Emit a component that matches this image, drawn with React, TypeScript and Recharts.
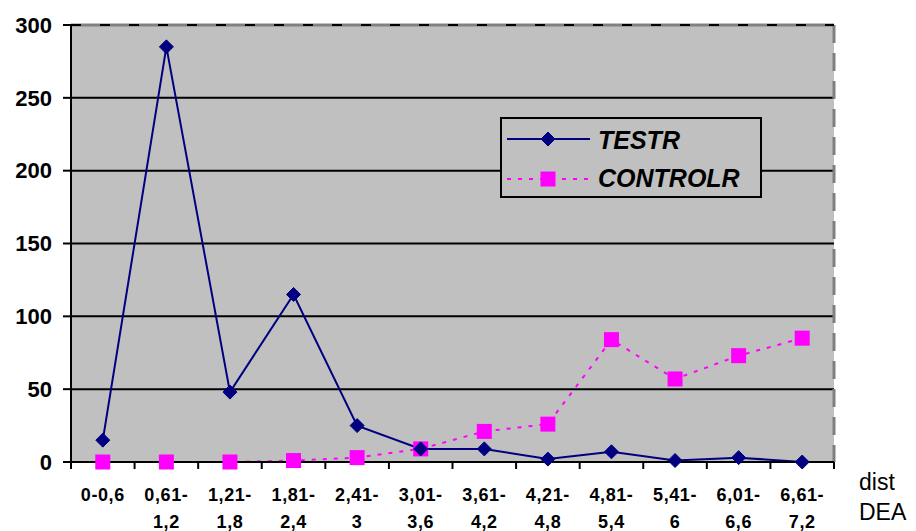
import {
  CartesianGrid,
  Legend,
  Line,
  LineChart,
  ReferenceLine,
  XAxis,
  YAxis,
} from 'recharts'

const categories = [
  '0-0,6',
  '0,61-1,2',
  '1,21-1,8',
  '1,81-2,4',
  '2,41-3',
  '3,01-3,6',
  '3,61-4,2',
  '4,21-4,8',
  '4,81-5,4',
  '5,41-6',
  '6,01-6,6',
  '6,61-7,2',
]

const tickTop = ['0-0,6', '0,61-', '1,21-', '1,81-', '2,41-', '3,01-', '3,61-', '4,21-', '4,81-', '5,41-', '6,01-', '6,61-']
const tickBottom = ['', '1,2', '1,8', '2,4', '3', '3,6', '4,2', '4,8', '5,4', '6', '6,6', '7,2']

const testr = [15, 285, 48, 115, 25, 9, 9, 2, 7, 1, 3, 0]
const controlr = [0, 0, 0, 1, 3, 9, 21, 26, 84, 57, 73, 85]

const yTicks = [0, 50, 100, 150, 200, 250, 300]

const data = categories.map((name, i) => ({
  name,
  TESTR: testr[i],
  CONTROLR: controlr[i],
}))

const font = "'Liberation Sans', Arial, sans-serif"
const navy = '#000080'
const magenta = '#ff00ff'
// half of one category band (plot width / 12 / 2)
const halfBand = (834 - 71) / categories.length / 2

function Diamond({ cx, cy, size = 7 }: { cx: number; cy: number; size?: number }) {
  return (
    <path
      d={`M${cx},${cy - size} L${cx + size},${cy} L${cx},${cy + size} L${cx - size},${cy} Z`}
      fill={navy}
      stroke={navy}
    />
  )
}

function Square({ cx, cy, size = 7.5 }: { cx: number; cy: number; size?: number }) {
  return <rect x={cx - size} y={cy - size} width={size * 2} height={size * 2} fill={magenta} />
}

function XTick(props: any) {
  const { x, payload, index } = props
  const i = index ?? payload?.index ?? 0
  const top = 462
  const labelProps = {
    x,
    textAnchor: 'middle' as const,
    fontFamily: font,
    fontWeight: 'bold',
    fontSize: 18,
    letterSpacing: 0.6,
    fill: '#000',
  }
  return (
    <g>
      <line x1={x - halfBand} y1={top} x2={x - halfBand} y2={top + 7} stroke="#000" strokeWidth={2} />
      {i === categories.length - 1 && (
        <line x1={x + halfBand} y1={top} x2={x + halfBand} y2={top + 7} stroke="#000" strokeWidth={2} />
      )}
      <text {...labelProps} y={top + 39}>
        {tickTop[i]}
      </text>
      <text {...labelProps} y={top + 65.5}>
        {tickBottom[i]}
      </text>
    </g>
  )
}

function LegendBox() {
  return (
    <div
      style={{
        width: 262,
        height: 81,
        boxSizing: 'border-box',
        border: '2px solid #000',
        background: '#c0c0c0',
      }}
    >
      <svg width={258} height={77} style={{ display: 'block' }}>
        <line x1={5} y1={20} x2={88} y2={20} stroke={navy} strokeWidth={2} />
        <Diamond cx={46} cy={20} />
        <text x={96} y={30} fontFamily={font} fontWeight="bold" fontStyle="italic" fontSize={25} fill="#000">
          TESTR
        </text>
        <line x1={5} y1={60} x2={88} y2={60} stroke={magenta} strokeWidth={2} strokeDasharray="4 7" />
        <Square cx={46} cy={60} />
        <text x={96} y={68} fontFamily={font} fontWeight="bold" fontStyle="italic" fontSize={25} fill="#000">
          CONTROLR
        </text>
      </svg>
    </div>
  )
}

export default function App() {
  return (
    <div style={{ position: 'absolute', left: 0, top: 0, width: 916, height: 531, background: '#fff' }}>
      <LineChart width={916} height={531} data={data} margin={{ top: 25, right: 82, bottom: 0, left: 0 }}>
        <CartesianGrid fill="#c0c0c0" vertical={false} stroke="#000" strokeWidth={2} strokeOpacity={1} />
        <CartesianGrid
          horizontal={false}
          verticalCoordinatesGenerator={({ offset }: any) => [offset.left + offset.width]}
          stroke="#808080"
          strokeWidth={3}
          strokeDasharray="18 10"
        />
        <XAxis
          dataKey="name"
          height={69}
          padding={{ left: halfBand, right: halfBand }}
          axisLine={{ stroke: '#000', strokeWidth: 2 }}
          tickLine={false}
          tickSize={0}
          tickMargin={0}
          interval={0}
          tick={<XTick />}
        />
        <YAxis
          width={71}
          domain={[0, 300]}
          ticks={yTicks}
          interval={0}
          axisLine={{ stroke: '#000', strokeWidth: 2 }}
          tickLine={{ stroke: '#000', strokeWidth: 2 }}
          tickSize={8}
          tickMargin={11}
          tick={{ fill: '#000', fontSize: 22, fontWeight: 'bold', fontFamily: font }}
        />
        <ReferenceLine y={300} stroke="#808080" strokeWidth={3} />
        <ReferenceLine y={300} stroke="#000" strokeWidth={2} strokeDasharray="10 19" />
        <Legend
          layout="horizontal"
          verticalAlign="middle"
          align="center"
          wrapperStyle={{ left: 500, top: 117, width: 262, height: 81 }}
          content={() => <LegendBox />}
        />
        <Line
          type="linear"
          dataKey="CONTROLR"
          stroke={magenta}
          strokeWidth={2}
          strokeDasharray="4 7"
          isAnimationActive={false}
          dot={(p: any) => <Square key={`c-${p.index}`} cx={p.cx} cy={p.cy} />}
          activeDot={false}
        />
        <Line
          type="linear"
          dataKey="TESTR"
          stroke={navy}
          strokeWidth={2}
          isAnimationActive={false}
          dot={(p: any) => <Diamond key={`t-${p.index}`} cx={p.cx} cy={p.cy} />}
          activeDot={false}
        />
      </LineChart>
      <div
        style={{
          position: 'absolute',
          left: 859,
          top: 467,
          fontFamily: font,
          fontSize: 23,
          lineHeight: '30px',
          color: '#000',
        }}
      >
        dist
        <br />
        DEA
      </div>
    </div>
  )
}
